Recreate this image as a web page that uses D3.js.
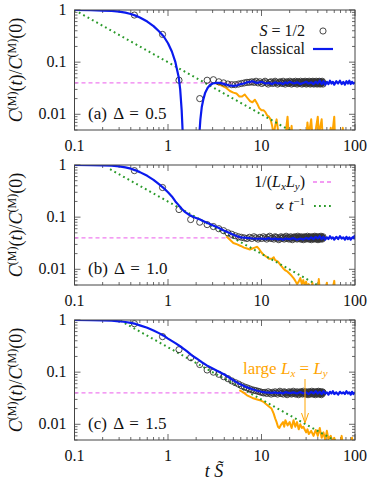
<!DOCTYPE html>
<html>
<head>
<meta charset="utf-8">
<script src="https://cdn.jsdelivr.net/npm/d3@7"></script>
<style>
  body { margin: 0; background: #fff; }
  svg, text, tspan { font-family: 'Liberation Serif', 'Times New Roman', 'DejaVu Serif', serif; }
  text { fill: #111; }
</style>
</head>
<body>
<script>
// tick values and labels
const xTicks = [0.1, 1, 10, 100]
const xTickLabels = ['0.1', '1', '10', '100']
const yTicks = [1, 0.1, 0.01]
const yTickLabels = ['1', '0.1', '0.01']

// 1/(Lx Ly) level
const plateauLevel = 0.04

// S = 1/2 data, sampled every circleDt in t S
const circleDt = 0.437
const quantumA = [0.80, 0.34, 0.045, 0.002, 0.020, 0.045, 0.046, 0.042, 0.040, 0.038, 0.037, 0.037, 0.038, 0.039, 0.040, 0.041, 0.041,
  0.042, 0.041, 0.043, 0.040, 0.042, 0.039, 0.041, 0.043, 0.040, 0.038, 0.041, 0.042, 0.039, 0.040, 0.043, 0.041, 0.038, 0.040,
  0.042, 0.041, 0.039, 0.043, 0.040, 0.038, 0.041, 0.042, 0.040, 0.039, 0.043, 0.041, 0.038, 0.040, 0.042, 0.039, 0.041, 0.043,
  0.040, 0.038, 0.042, 0.041, 0.039, 0.040, 0.043, 0.041, 0.038, 0.040, 0.042, 0.039, 0.041, 0.043, 0.040, 0.038, 0.042, 0.041,
  0.039, 0.040, 0.043, 0.041, 0.038, 0.040, 0.042, 0.039, 0.041, 0.043, 0.040, 0.038, 0.042, 0.041, 0.039, 0.040, 0.043, 0.041,
  0.038, 0.040, 0.042, 0.039, 0.041, 0.043, 0.040, 0.038, 0.042, 0.041, 0.039, 0.040, 0.043, 0.041, 0.038]
const quantumB = [0.78, 0.37, 0.14, 0.09, 0.08, 0.072, 0.066, 0.06, 0.055, 0.05, 0.047, 0.044, 0.042, 0.041, 0.040, 0.039,
  0.041, 0.039, 0.042, 0.040, 0.038, 0.041, 0.039, 0.042, 0.040, 0.038, 0.041, 0.043, 0.039, 0.040, 0.038, 0.042, 0.041, 0.039,
  0.037, 0.040, 0.042, 0.039, 0.041, 0.038, 0.040, 0.043, 0.039, 0.041, 0.038, 0.040, 0.042, 0.039, 0.037, 0.041, 0.040, 0.042,
  0.039, 0.041, 0.038, 0.043, 0.040, 0.039, 0.041, 0.038, 0.042, 0.040, 0.039, 0.037, 0.041, 0.042, 0.040, 0.038, 0.041, 0.039,
  0.043, 0.040, 0.038, 0.041, 0.039, 0.042, 0.040, 0.037, 0.041, 0.039, 0.042, 0.040, 0.038, 0.041, 0.043, 0.039, 0.040, 0.038,
  0.042, 0.041, 0.039, 0.037, 0.040, 0.042, 0.039, 0.041, 0.038, 0.040, 0.043, 0.039, 0.041, 0.038, 0.040, 0.042]
const quantumC = [0.85, 0.48, 0.27, 0.19, 0.14, 0.11, 0.1, 0.091, 0.082, 0.075, 0.068, 0.063, 0.059, 0.055, 0.052, 0.05, 0.048,
  0.046, 0.045, 0.044, 0.043, 0.042, 0.041, 0.040, 0.041, 0.039, 0.042, 0.040, 0.038, 0.041, 0.039, 0.042, 0.040, 0.038, 0.041,
  0.043, 0.039, 0.040, 0.038, 0.042, 0.041, 0.039, 0.037, 0.040, 0.042, 0.039, 0.041, 0.038, 0.040, 0.043, 0.039, 0.041, 0.038,
  0.040, 0.042, 0.039, 0.037, 0.041, 0.040, 0.042, 0.039, 0.041, 0.038, 0.043, 0.040, 0.039, 0.041, 0.038, 0.042, 0.040, 0.039,
  0.037, 0.041, 0.042, 0.040, 0.038, 0.041, 0.039, 0.043, 0.040, 0.038, 0.041, 0.039, 0.042, 0.040, 0.037, 0.041, 0.039, 0.042,
  0.040, 0.038, 0.041, 0.043, 0.039, 0.040, 0.038, 0.042, 0.041, 0.039, 0.037, 0.040, 0.042, 0.039, 0.041]

// classical curves [t S, C(t)/C(0)]
const classicalA = [[0.1, 1.0], [0.15, 0.99], [0.2, 0.975], [0.25, 0.96], [0.3, 0.93], [0.35, 0.89], [0.4, 0.84], [0.45, 0.78],
  [0.5, 0.72], [0.6, 0.6], [0.7, 0.49], [0.8, 0.39], [0.9, 0.31], [1.0, 0.23], [1.1, 0.16], [1.2, 0.1], [1.3, 0.052], [1.35, 0.03],
  [1.4, 0.012], [1.44, 0.004], [1.47, 0.001], [2.1, 0.001], [2.16, 0.004], [2.22, 0.008], [2.3, 0.014], [2.4, 0.02], [2.5, 0.026],
  [2.65, 0.032], [2.8, 0.036], [3.0, 0.039], [3.3, 0.04], [3.6, 0.04], [4.0, 0.038], [4.5, 0.036], [5.0, 0.035], [5.5, 0.036],
  [6.0, 0.038], [6.5, 0.039], [7.0, 0.041], [7.5, 0.042], [8.0, 0.043], [8.5, 0.041], [9.0, 0.04], [9.5, 0.041], [10, 0.042],
  [11, 0.039], [12, 0.04], [13, 0.038], [14, 0.041], [15, 0.039], [16, 0.04], [17, 0.038], [18, 0.041], [19, 0.039], [20, 0.042],
  [22, 0.039], [24, 0.041], [26, 0.038], [28, 0.04], [30, 0.042], [32, 0.039], [34, 0.041], [36, 0.038], [38, 0.042], [40, 0.039],
  [42, 0.044], [44, 0.038], [46, 0.043], [48, 0.037], [50, 0.042], [52, 0.038], [54, 0.044], [56, 0.039], [58, 0.042], [60, 0.037],
  [63, 0.043], [66, 0.039], [69, 0.044], [72, 0.038], [75, 0.042], [78, 0.037], [81, 0.043], [84, 0.039], [87, 0.044], [90, 0.038],
  [93, 0.042], [96, 0.039], [100, 0.041]]
const classicalB = [[0.1, 1.0], [0.15, 0.995], [0.2, 0.985], [0.25, 0.97], [0.3, 0.94], [0.35, 0.9], [0.4, 0.85], [0.45, 0.79],
  [0.5, 0.73], [0.6, 0.62], [0.7, 0.52], [0.8, 0.43], [0.9, 0.36], [1.0, 0.3], [1.1, 0.25], [1.2, 0.2], [1.3, 0.17], [1.4, 0.145],
  [1.5, 0.128], [1.7, 0.11], [1.9, 0.1], [2.2, 0.09], [2.5, 0.081], [3, 0.07], [3.5, 0.062], [4, 0.055], [4.5, 0.05], [5, 0.046],
  [5.5, 0.043], [6, 0.041], [7, 0.04], [8, 0.039], [9, 0.0385], [10, 0.039], [11, 0.038], [12, 0.0395], [13, 0.038], [14, 0.039],
  [15, 0.0375], [16, 0.0385], [17, 0.037], [18, 0.039], [20, 0.038], [22, 0.0395], [24, 0.037], [26, 0.039], [28, 0.0375],
  [30, 0.04], [32, 0.038], [34, 0.041], [36, 0.038], [38, 0.042], [40, 0.039], [42, 0.043], [44, 0.038], [46, 0.042], [48, 0.037],
  [50, 0.041], [52, 0.038], [54, 0.043], [56, 0.039], [58, 0.041], [60, 0.037], [63, 0.042], [66, 0.038], [69, 0.043], [72, 0.039],
  [75, 0.041], [78, 0.037], [81, 0.042], [84, 0.038], [87, 0.041], [90, 0.037], [93, 0.04], [96, 0.042], [98, 0.039], [100, 0.046]]
const classicalC = [[0.1, 1.0], [0.15, 0.995], [0.2, 0.985], [0.25, 0.97], [0.3, 0.945], [0.35, 0.915], [0.4, 0.88], [0.45, 0.84],
  [0.5, 0.79], [0.6, 0.71], [0.7, 0.63], [0.8, 0.56], [0.9, 0.5], [1.0, 0.44], [1.2, 0.36], [1.4, 0.3], [1.6, 0.25], [1.8, 0.21],
  [2.0, 0.185], [2.3, 0.155], [2.6, 0.135], [3.0, 0.118], [3.5, 0.102], [4.0, 0.09], [4.5, 0.079], [5, 0.07], [5.5, 0.063],
  [6, 0.058], [7, 0.051], [8, 0.047], [9, 0.044], [10, 0.042], [11, 0.041], [12, 0.0405], [13, 0.04], [14, 0.041], [15, 0.0395],
  [16, 0.0405], [17, 0.039], [18, 0.0415], [20, 0.0395], [22, 0.041], [24, 0.039], [26, 0.0415], [28, 0.039], [30, 0.041],
  [32, 0.038], [34, 0.042], [36, 0.039], [38, 0.043], [40, 0.039], [42, 0.042], [44, 0.038], [46, 0.043], [48, 0.039], [50, 0.041],
  [52, 0.037], [54, 0.042], [56, 0.039], [58, 0.043], [60, 0.038], [63, 0.041], [66, 0.037], [69, 0.042], [72, 0.039], [75, 0.041],
  [78, 0.038], [81, 0.043], [84, 0.039], [87, 0.041], [90, 0.037], [93, 0.042], [96, 0.038], [100, 0.041]]

// large Lx = Ly curves
const largeA = [[3.2, 0.04], [3.5, 0.037], [3.8, 0.035], [4.2, 0.032], [4.6, 0.028], [5.0, 0.026], [5.4, 0.025], [5.8, 0.022],
  [6.2, 0.022], [6.6, 0.024], [7.0, 0.021], [7.5, 0.018], [8, 0.017], [8.5, 0.019], [9, 0.016], [9.5, 0.013], [10, 0.012],
  [10.5, 0.012], [11, 0.011], [11.5, 0.0095], [12, 0.009], [12.5, 0.008], [13, 0.006], [13.5, 0.004], [14, 0.006], [14.5, 0.008],
  [15, 0.005], [15.5, 0.003], [18, 0.003], [18.5, 0.006], [19, 0.009], [19.5, 0.004], [20, 0.003], [21, 0.006], [21.5, 0.003],
  [25, 0.003], [26, 0.005], [27, 0.003], [30, 0.003], [31, 0.007], [32, 0.004], [34, 0.008], [35, 0.004], [38, 0.005], [40, 0.009],
  [41, 0.004], [44, 0.008], [45, 0.004], [48, 0.003], [52, 0.003], [55, 0.0055], [56, 0.003], [60, 0.009], [61, 0.004], [62, 0.003],
  [72, 0.003], [74, 0.0055], [76, 0.003], [100, 0.003]]
const largeB = [[4.2, 0.043], [4.6, 0.037], [5, 0.032], [5.5, 0.03], [6, 0.028], [6.5, 0.026], [7, 0.025], [7.5, 0.024], [8, 0.025],
  [8.5, 0.026], [9, 0.027], [9.5, 0.024], [10, 0.021], [10.5, 0.019], [11, 0.018], [11.5, 0.017], [12, 0.016], [13, 0.016],
  [13.5, 0.017], [14, 0.015], [15, 0.014], [16, 0.012], [17, 0.0105], [18, 0.0095], [19, 0.009], [20, 0.0082], [21, 0.0075],
  [22, 0.0068], [23, 0.006], [24, 0.0052], [25, 0.0058], [26, 0.0068], [27, 0.0052], [28, 0.0062], [29, 0.0048], [30, 0.0058],
  [31, 0.0045], [32, 0.0052], [34, 0.004], [35, 0.0055], [36, 0.004], [40, 0.004], [41, 0.0065], [42, 0.004], [48, 0.004],
  [50, 0.0055], [51, 0.004], [58, 0.0045], [60, 0.006], [61, 0.004], [100, 0.004]]
const largeC = [[5.8, 0.045], [6.5, 0.04], [7, 0.036], [8, 0.032], [9, 0.03], [9.6, 0.029], [10.5, 0.027], [11, 0.025], [12, 0.022],
  [12.8, 0.02], [13.5, 0.016], [14, 0.013], [14.5, 0.011], [15, 0.009], [15.5, 0.0085], [16, 0.0095], [17, 0.011], [17.5, 0.009],
  [18, 0.012], [19, 0.0095], [20, 0.011], [21, 0.0085], [22, 0.012], [23, 0.009], [24, 0.011], [25, 0.008], [26, 0.01], [27, 0.0085],
  [28, 0.009], [30, 0.007], [31, 0.008], [32, 0.0065], [34, 0.0075], [36, 0.006], [38, 0.0078], [40, 0.006], [42, 0.0085],
  [44, 0.0055], [46, 0.007], [48, 0.005], [50, 0.0075], [52, 0.0052], [55, 0.006], [58, 0.0045], [60, 0.0055], [63, 0.004],
  [70, 0.004], [72, 0.006], [74, 0.0042], [80, 0.004], [90, 0.0035], [93, 0.0055], [95, 0.0035], [100, 0.004]]

// proportional to 1/t guide lines (end points)
const slopeA = [[0.1, 1.0], [30, 0.0033]]
const slopeB = [[0.24, 0.83], [60, 0.0033]]
const slopeC = [[0.31, 0.97], [90, 0.0033]]

const panelLetters = ['(a)', '(b)', '(c)']
const deltas = ['0.5', '1.0', '1.5']

const panels = [
  { quantum: quantumA, classical: classicalA, large: largeA, slope: slopeA },
  { quantum: quantumB, classical: classicalB, large: largeB, slope: slopeB },
  { quantum: quantumC, classical: classicalC, large: largeC, slope: slopeC }
]

const W = 374, H = 483
const left = 74.5, right = 355
const tops = [10, 165, 320]
const ph = 120
const serif = "'Liberation Serif', 'Times New Roman', 'DejaVu Serif', serif"

const blue = '#0a1aee'
const orange = '#ffa500'
const green = '#2a9a2a'
const violet = '#f07cf0'

const svg = d3.select('body').append('svg')
  .attr('width', W).attr('height', H)
  .attr('font-family', serif)

const x = d3.scaleLog().domain([0.1, 100]).range([left, right])

function yLabel(g, cy) {
  const t = g.append('text')
    .attr('transform', `translate(22, ${cy}) rotate(-90)`)
    .attr('text-anchor', 'middle')
    .attr('font-family', serif)
    .style('font-size', '18px')
  t.append('tspan').style('font-style', 'italic').text('C')
  t.append('tspan').attr('dy', -6).style('font-size', '12px').text('(M)')
  t.append('tspan').attr('dy', 6).text('(')
  t.append('tspan').style('font-style', 'italic').text('t')
  t.append('tspan').text(')/')
  t.append('tspan').style('font-style', 'italic').text('C')
  t.append('tspan').attr('dy', -6).style('font-size', '12px').text('(M)')
  t.append('tspan').attr('dy', 6).text('(0)')
}

panels.forEach((p, i) => {
  const top = tops[i]
  const bottom = top + ph
  const y = d3.scaleLog().domain([0.005, 1]).range([bottom, top])
  const g = svg.append('g')

  const clipId = 'clip' + i
  g.append('clipPath').attr('id', clipId)
    .append('rect').attr('x', left).attr('y', top).attr('width', right - left).attr('height', ph)

  // ticks on all four sides
  const axes = g.append('g').attr('stroke', '#444').attr('stroke-width', 0.8)
  x.ticks().forEach(v => {
    const major = xTicks.includes(v)
    const len = major ? 6 : 3
    axes.append('line').attr('x1', x(v)).attr('x2', x(v)).attr('y1', bottom).attr('y2', bottom - len)
    axes.append('line').attr('x1', x(v)).attr('x2', x(v)).attr('y1', top).attr('y2', top + len)
  })
  y.ticks().forEach(v => {
    const major = yTicks.some(t => Math.abs(t - v) < 1e-9)
    const len = major ? 6 : 3
    axes.append('line').attr('y1', y(v)).attr('y2', y(v)).attr('x1', left).attr('x2', left + len)
    axes.append('line').attr('y1', y(v)).attr('y2', y(v)).attr('x1', right).attr('x2', right - len)
  })

  const plot = g.append('g').attr('clip-path', `url(#${clipId})`)

  plot.append('line')
    .attr('x1', x(0.1)).attr('x2', x(100))
    .attr('y1', y(plateauLevel)).attr('y2', y(plateauLevel))
    .attr('stroke', violet).attr('stroke-width', 1.3).attr('stroke-dasharray', '4 3')

  const line = d3.line().x(d => x(d[0])).y(d => y(d[1]))

  plot.append('path').datum(p.large)
    .attr('d', line).attr('fill', 'none')
    .attr('stroke', orange).attr('stroke-width', 2).attr('stroke-linejoin', 'round')

  plot.append('path').datum(p.slope)
    .attr('d', line).attr('fill', 'none')
    .attr('stroke', green).attr('stroke-width', 2)
    .attr('stroke-dasharray', '1.8 3.2')

  plot.selectAll('circle.q').data(p.quantum).join('circle')
    .attr('class', 'q')
    .attr('cx', (d, k) => x(circleDt * (k + 1)))
    .attr('cy', d => y(d))
    .attr('r', 3.1)
    .attr('fill', 'none').attr('stroke', '#333').attr('stroke-width', 0.9)

  plot.append('path').datum(p.classical)
    .attr('d', line).attr('fill', 'none')
    .attr('stroke', blue).attr('stroke-width', 2.2).attr('stroke-linejoin', 'round')

  g.append('rect')
    .attr('x', left).attr('y', top).attr('width', right - left).attr('height', ph)
    .attr('fill', 'none').attr('stroke', '#444').attr('stroke-width', 1)

  // tick labels
  g.selectAll('text.yt').data(yTicks).join('text')
    .attr('class', 'yt')
    .attr('x', left - 8).attr('y', d => y(d) + 5)
    .attr('text-anchor', 'end')
    .attr('font-family', serif)
    .style('font-size', '16px')
    .text((d, k) => yTickLabels[k])
  g.selectAll('text.xt').data(xTicks).join('text')
    .attr('class', 'xt')
    .attr('x', d => x(d)).attr('y', bottom + 21)
    .attr('text-anchor', 'middle')
    .attr('font-family', serif)
    .style('font-size', '16px')
    .text((d, k) => xTickLabels[k])

  yLabel(g, top + ph / 2)

  const lab = g.append('text')
    .attr('x', 88).attr('y', bottom - 11)
    .attr('font-family', serif)
    .style('font-size', '17px')
    .style('word-spacing', '2px')
  lab.append('tspan').text(panelLetters[i] + ' ')
  lab.append('tspan').text('\u0394 = ' + deltas[i])
})

// legend, panel (a)
const la = svg.append('g').attr('font-family', serif)
const s1 = la.append('text').attr('x', 305).attr('y', 36).attr('text-anchor', 'end').style('font-size', '16px')
s1.append('tspan').style('font-style', 'italic').text('S')
s1.append('tspan').text(' = 1/2')
la.append('circle').attr('cx', 323).attr('cy', 31).attr('r', 3.1)
  .attr('fill', 'none').attr('stroke', '#333').attr('stroke-width', 0.9)
la.append('text').attr('x', 305).attr('y', 54).attr('text-anchor', 'end').style('font-size', '16px').text('classical')
la.append('line').attr('x1', 313).attr('x2', 333).attr('y1', 49).attr('y2', 49)
  .attr('stroke', blue).attr('stroke-width', 2.2)

// legend, panel (b)
const lb = svg.append('g').attr('font-family', serif)
const b1 = lb.append('text').attr('x', 305).attr('y', 187).attr('text-anchor', 'end').style('font-size', '16px')
b1.append('tspan').text('1/(')
b1.append('tspan').style('font-style', 'italic').text('L')
b1.append('tspan').attr('dy', 3).style('font-size', '11px').style('font-style', 'italic').text('x')
b1.append('tspan').attr('dy', -3).style('font-style', 'italic').text('L')
b1.append('tspan').attr('dy', 3).style('font-size', '11px').style('font-style', 'italic').text('y')
b1.append('tspan').attr('dy', -3).text(')')
lb.append('line').attr('x1', 313).attr('x2', 333).attr('y1', 182).attr('y2', 182)
  .attr('stroke', violet).attr('stroke-width', 1.3).attr('stroke-dasharray', '4 3')
const b2 = lb.append('text').attr('x', 305).attr('y', 211).attr('text-anchor', 'end').style('font-size', '16px')
b2.append('tspan').text('\u221D ')
b2.append('tspan').style('font-style', 'italic').text('t')
b2.append('tspan').attr('dy', -6).style('font-size', '11px').text('\u22121')
lb.append('line').attr('x1', 314).attr('x2', 333).attr('y1', 206).attr('y2', 206)
  .attr('stroke', green).attr('stroke-width', 2).attr('stroke-dasharray', '1.8 3.2')

// annotation, panel (c)
const ann = svg.append('text').attr('x', 243).attr('y', 374).attr('font-family', serif).style('font-size', '17px')
ann.append('tspan').style('fill', orange).text('large ')
ann.append('tspan').style('fill', orange).style('font-style', 'italic').text('L')
ann.append('tspan').style('fill', orange).style('font-style', 'italic').style('font-size', '11px').attr('dy', 3).text('x')
ann.append('tspan').style('fill', orange).attr('dy', -3).text(' = ')
ann.append('tspan').style('fill', orange).style('font-style', 'italic').text('L')
ann.append('tspan').style('fill', orange).style('font-style', 'italic').style('font-size', '11px').attr('dy', 3).text('y')
svg.append('line').attr('x1', 305).attr('x2', 305).attr('y1', 379).attr('y2', 422)
  .attr('stroke', orange).attr('stroke-width', 1)
svg.append('path').attr('d', 'M301.5,413 L305,423 L308.5,413')
  .attr('fill', 'none').attr('stroke', orange).attr('stroke-width', 1)

// x axis title
const xt = svg.append('text').attr('x', 214).attr('y', 477).attr('text-anchor', 'middle')
  .attr('font-family', serif).style('font-size', '18px')
xt.append('tspan').style('font-style', 'italic').text('t ')
xt.append('tspan').style('font-style', 'italic').text('S\u0303')
</script>
</body>
</html>
